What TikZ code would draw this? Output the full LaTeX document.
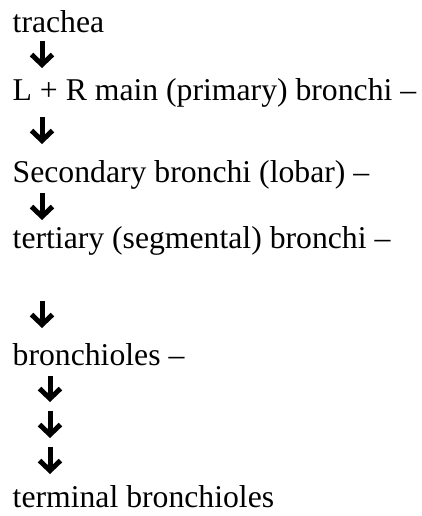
\documentclass[tikz,border=0pt]{standalone}
\usepackage{fontspec}
\setmainfont{Liberation Serif}
\usetikzlibrary{arrows.meta}
\begin{document}
\begin{tikzpicture}[x=1pt, y=-1pt,
    word/.style={anchor=base west, inner sep=0pt, font=\fontsize{31.7}{38}\selectfont},
    arr/.style={line width=5pt, -{Straight Barb[length=10pt, width=21pt]}}]
        \useasboundingbox (0,0) rectangle (422,516);
        % Nodes
        \node[word] (T) at (12.5,33) {trachea};
        \node[word] (P) at (12.5,100) {L + R main (primary) bronchi --};
        \node[word] (S) at (12.5,182) {Secondary bronchi (lobar) --};
        \node[word] (G) at (12.5,248) {tertiary (segmental) bronchi --};
        \node[word] (B) at (12.5,365) {bronchioles --};
        \node[word] (E) at (12.5,507) {terminal bronchioles};

        % Arrow ends
        \coordinate (a1) at (42,41);  \coordinate (b1) at (42,68);
        \coordinate (a2) at (42,117); \coordinate (b2) at (42,144);
        \coordinate (a3) at (42,193); \coordinate (b3) at (42,220);
        \coordinate (a4) at (42,301); \coordinate (b4) at (42,328);
        \coordinate (a5) at (50,376); \coordinate (b5) at (50,402);
        \coordinate (a6) at (50,411); \coordinate (b6) at (50,438);
        \coordinate (a7) at (50,447); \coordinate (b7) at (50,474);

        % Arrows
        \draw[arr] (a1) -- (b1);
        \draw[arr] (a2) -- (b2);
        \draw[arr] (a3) -- (b3);
        \draw[arr] (a4) -- (b4);
        \draw[arr] (a5) -- (b5);
        \draw[arr] (a6) -- (b6);
        \draw[arr] (a7) -- (b7);
    \end{tikzpicture}
\end{document}
